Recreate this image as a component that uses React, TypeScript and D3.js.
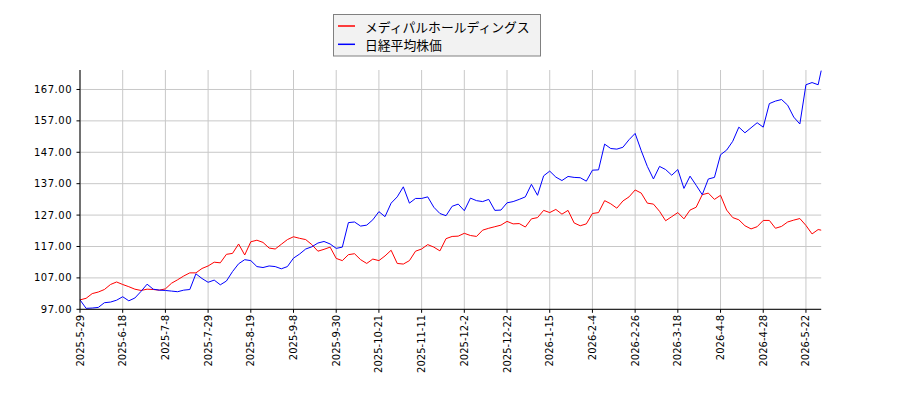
import * as d3 from "d3";

// trading-day index of each sample (every 2nd day, plus the last day)
const days: number[] = [...d3.range(0, 243, 2), 243];

const mediparValues = [
  100.0, 100.5, 102.0, 102.5, 103.3, 104.9, 105.7, 104.9, 104.2, 103.4,
  103.0, 103.4, 103.3, 103.1, 103.5, 105.3, 106.4, 107.6, 108.6, 108.6,
  110.0, 110.8, 112.0, 111.8, 114.5, 114.8, 117.8, 114.3, 118.5, 119.0,
  118.3, 116.5, 116.2, 117.7, 119.2, 120.1, 119.6, 119.2, 117.6, 115.5,
  116.1, 116.8, 113.2, 112.5, 114.4, 114.7, 112.8, 111.6, 113.0, 112.5,
  114.0, 115.8, 111.6, 111.4, 112.5, 115.5, 116.2, 117.6, 116.8, 115.6,
  119.5, 120.2, 120.3, 121.2, 120.5, 120.2, 122.2, 122.8, 123.3, 123.8,
  125.0, 124.2, 124.3, 123.2, 125.8, 126.2, 128.5, 127.8, 128.8, 127.3,
  128.5, 124.5, 123.6, 124.2, 127.5, 127.8, 131.6, 130.6, 129.2, 131.5,
  132.8, 135.0, 134.0, 130.8, 130.5, 128.2, 125.2, 126.5, 127.8, 125.8,
  128.6, 129.5, 133.5, 134.0, 132.0, 133.3, 128.6, 126.2, 125.5, 123.6,
  122.6, 123.3, 125.3, 125.3, 122.8, 123.4, 124.8, 125.4, 125.9, 123.7,
  121.0, 122.4, 122.2,
];

const nikkeiValues = [
  100.0, 97.3, 97.4, 97.6, 99.1, 99.3, 99.9, 101.0, 99.7, 100.6,
  102.7, 105.0, 103.4, 103.1, 103.0, 102.8, 102.6, 103.1, 103.3, 108.3,
  106.8, 105.6, 106.3, 104.8, 106.0, 109.0, 111.5, 112.8, 112.5, 110.6,
  110.3, 110.8, 110.6, 109.9, 110.6, 113.3, 114.6, 116.2, 116.9, 118.1,
  118.6, 117.8, 116.4, 116.8, 124.6, 124.8, 123.5, 123.8, 125.5, 128.1,
  126.5, 130.8, 132.8, 136.0, 130.8, 132.3, 132.3, 132.8, 129.5, 127.5,
  126.8, 129.8, 130.5, 128.4, 132.4, 131.6, 131.3, 132.0, 128.5, 128.6,
  130.9, 131.3, 132.0, 132.8, 136.8, 133.3, 139.5, 141.0, 139.1, 138.0,
  139.3, 139.0, 138.9, 137.8, 141.3, 141.4, 149.6, 148.2, 148.0, 148.6,
  151.0, 153.0, 147.5, 142.5, 138.5, 142.5, 141.5, 139.7, 141.5, 135.5,
  139.4, 136.5, 133.5, 138.5, 139.0, 146.2, 147.7, 150.5, 155.0, 153.2,
  154.8, 156.4, 155.0, 162.5, 163.3, 163.8, 162.0, 158.2, 156.0, 168.5,
  169.2, 168.5, 173.0,
];

const xTickDays = [0, 14, 28, 42, 56, 70, 84, 98, 112, 126, 140, 154, 168, 182, 196, 210, 224, 238];
const xTickLabels = [
  "2025-5-29", "2025-6-18", "2025-7-8", "2025-7-29", "2025-8-19", "2025-9-8",
  "2025-9-30", "2025-10-21", "2025-11-11", "2025-12-2", "2025-12-22", "2026-1-15",
  "2026-2-4", "2026-2-26", "2026-3-18", "2026-4-8", "2026-4-28", "2026-5-22",
];
const yTicks = [97, 107, 117, 127, 137, 147, 157, 167];

const seriesNames = ["メディパルホールディングス", "日経平均株価"];
const seriesColors = ["#ff0000", "#0000ff"];

const W = 900;
const H = 400;
const plot = { left: 80, right: 821.2, top: 70, bottom: 309.3 };

export default function App() {
  const x = d3.scaleLinear().domain([0, 243]).range([plot.left, plot.right]);
  const y = d3.scaleLinear().domain([97, 173.2]).range([plot.bottom, plot.top]);

  const line = d3
    .line<number>()
    .x((_, i) => x(days[i]))
    .y((d) => y(d));

  const series = [mediparValues, nikkeiValues];
  const tickFont = "DejaVu Sans, sans-serif";

  return (
    <div style={{ position: "fixed", left: 0, top: 0 }}>
      <svg width={W} height={H} style={{ display: "block", background: "#fff" }}>
        {/* grid */}
        <g stroke="#c8c8c8" strokeWidth={1}>
          {yTicks.map((t) => (
            <line key={"gy" + t} x1={plot.left} x2={plot.right} y1={y(t)} y2={y(t)} />
          ))}
          {xTickDays.map((d) => (
            <line key={"gx" + d} x1={x(d)} x2={x(d)} y1={plot.top} y2={plot.bottom} />
          ))}
        </g>

        {/* lines */}
        {series.map((s, k) => (
          <path key={k} d={line(s) ?? ""} fill="none" stroke={seriesColors[k]} strokeWidth={1} />
        ))}

        {/* axes */}
        <g stroke="#000" strokeWidth={1}>
          <line x1={plot.left} x2={plot.left} y1={plot.top} y2={plot.bottom} />
          <line x1={plot.left} x2={plot.right} y1={plot.bottom} y2={plot.bottom} />
          {yTicks.map((t) => (
            <line key={"ty" + t} x1={plot.left - 3.5} x2={plot.left} y1={y(t)} y2={y(t)} />
          ))}
          {xTickDays.map((d) => (
            <line key={"tx" + d} x1={x(d)} x2={x(d)} y1={plot.bottom} y2={plot.bottom + 3.5} />
          ))}
        </g>

        <g fontFamily={tickFont} fontSize={10} fill="#000">
          {yTicks.map((t) => (
            <text
              key={"ly" + t}
              x={72}
              y={y(t)}
              textAnchor="end"
              dominantBaseline="central"
              letterSpacing={0.5}
            >
              {t.toFixed(2)}
            </text>
          ))}
          {xTickDays.map((d, i) => (
            <text
              key={"lx" + d}
              transform={`translate(${x(d)},${plot.bottom + 5.5}) rotate(-90)`}
              textAnchor="end"
              dominantBaseline="central"
            >
              {xTickLabels[i]}
            </text>
          ))}
        </g>

        {/* legend */}
        <g>
          <rect x={333.5} y={14.5} width={207} height={41.5} fill="#f2f2f2" stroke="#808080" strokeWidth={1} />
          {seriesNames.map((name, k) => (
            <g key={name} transform={`translate(0,${26 + k * 18.3})`}>
              <line x1={338} x2={355} y1={0} y2={0} stroke={seriesColors[k]} strokeWidth={1.5} />
              <text
                x={365}
                y={0}
                fontFamily="'Noto Sans CJK JP', sans-serif"
                fontSize={12.8}
                dominantBaseline="central"
                fill="#000"
              >
                {name}
              </text>
            </g>
          ))}
        </g>
      </svg>
    </div>
  );
}
